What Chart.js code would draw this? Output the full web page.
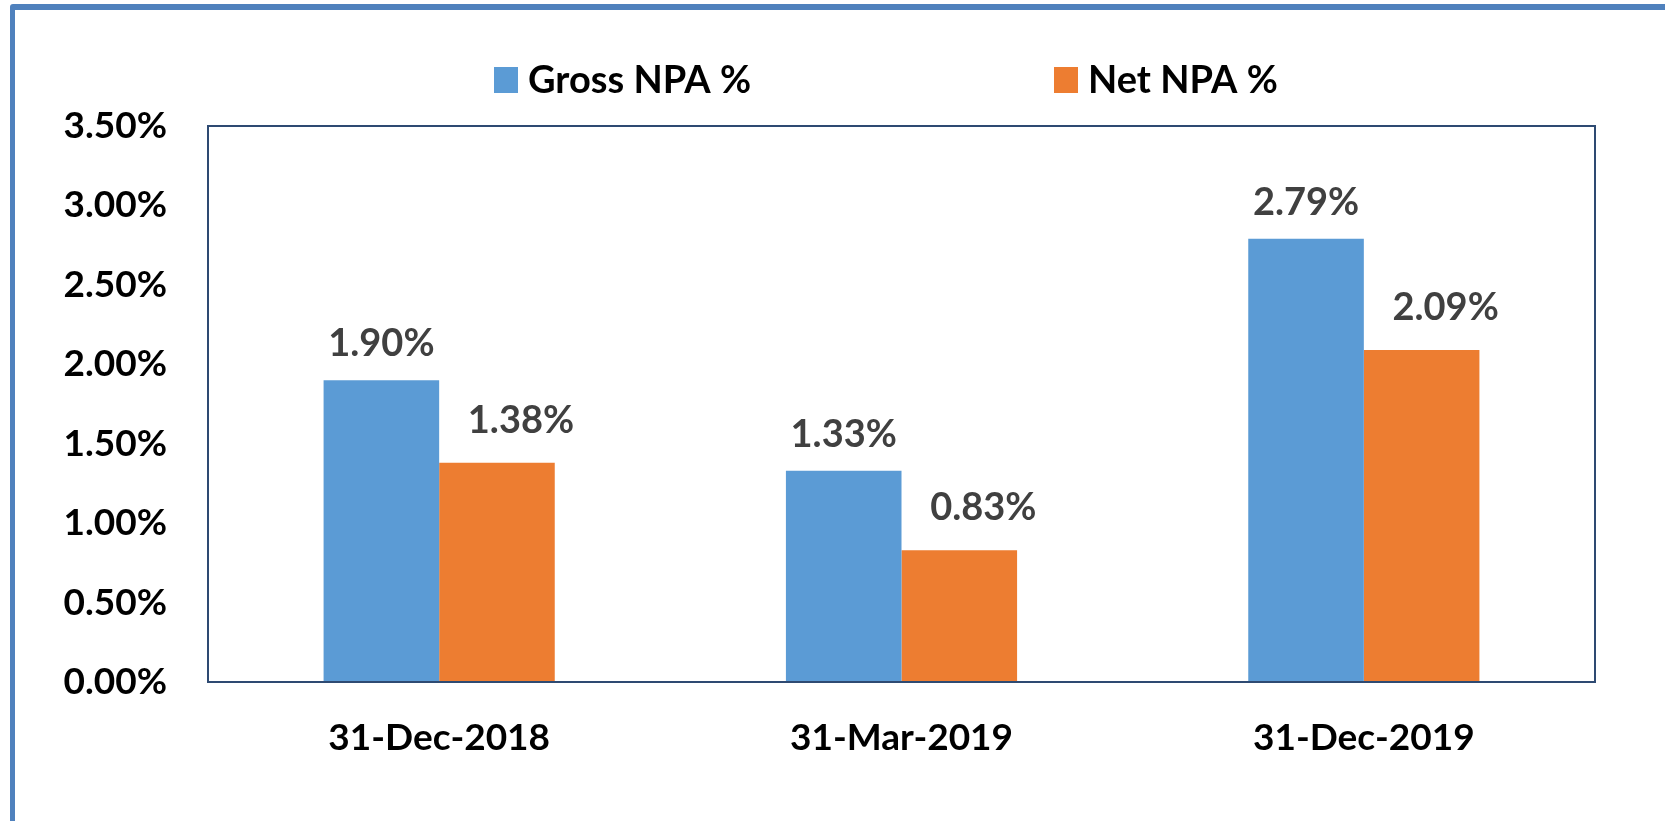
<!DOCTYPE html>
<html>
<head>
<meta charset="utf-8">
<script src="https://cdn.jsdelivr.net/npm/chart.js@4.4.0/dist/chart.umd.min.js"></script>
<style>
  html, body { margin: 0; padding: 0; background: #fff; overflow: hidden; }
  #wrap { position: relative; width: 1665px; height: 821px; }
  #frame { position: absolute; left: 10px; top: 4px; width: 2000px; height: 2000px;
           border-left: 5px solid #4F81BD; border-top: 6px solid #4F81BD; border-radius: 3px; box-sizing: border-box; }
  canvas { position: absolute; left: 0; top: 0; }
</style>
</head>
<body>
<div id="wrap">
  <div id="frame"></div>
  <canvas id="c" width="1665" height="821"></canvas>
</div>
<script>
const categories = ['31-Dec-2018', '31-Mar-2019', '31-Dec-2019'];
const grossNPA = [1.90, 1.33, 2.79];
const netNPA = [1.38, 0.83, 2.09];
const seriesNames = ['Gross NPA %', 'Net NPA %'];
const seriesColors = ['#5B9BD5', '#ED7D31'];
const yMin = 0, yMax = 3.5, yStep = 0.5;

const FONT = 'Lato, "Open Sans", sans-serif';
const fmt = v => Number(v).toFixed(2) + '%';

const plotBorder = {
  id: 'plotBorder',
  afterDatasetsDraw(chart) {
    const a = chart.chartArea, ctx = chart.ctx;
    ctx.save();
    ctx.strokeStyle = '#2E4A72';
    ctx.lineWidth = 2;
    ctx.strokeRect(a.left, a.top, a.right - a.left, a.bottom - a.top);
    ctx.restore();
  }
};

const valueLabels = {
  id: 'valueLabels',
  afterDatasetsDraw(chart) {
    const ctx = chart.ctx;
    const gaps = [24, 30];
    const shifts = [0, 24];
    ctx.save();
    ctx.font = 'bold 38px ' + FONT;
    ctx.fillStyle = '#404040';
    ctx.textAlign = 'center';
    ctx.textBaseline = 'alphabetic';
    chart.data.datasets.forEach((ds, di) => {
      const meta = chart.getDatasetMeta(di);
      meta.data.forEach((bar, i) => {
        ctx.fillText(fmt(ds.data[i]), bar.x + shifts[di], bar.y - gaps[di]);
      });
    });
    ctx.restore();
  }
};

const customLegend = {
  id: 'customLegend',
  afterDraw(chart) {
    const ctx = chart.ctx;
    const xs = [494, 1054];
    ctx.save();
    ctx.font = 'bold 38px ' + FONT;
    ctx.textBaseline = 'alphabetic';
    ctx.textAlign = 'left';
    chart.data.datasets.forEach((ds, i) => {
      ctx.fillStyle = ds.backgroundColor;
      ctx.fillRect(xs[i], 67, 24, 26);
      ctx.fillStyle = '#000';
      ctx.fillText(ds.label, xs[i] + 34, 93);
    });
    ctx.restore();
  }
};

new Chart(document.getElementById('c'), {
  type: 'bar',
  data: {
    labels: categories,
    datasets: [
      { label: seriesNames[0], data: grossNPA, backgroundColor: seriesColors[0] },
      { label: seriesNames[1], data: netNPA, backgroundColor: seriesColors[1] }
    ]
  },
  options: {
    responsive: false,
    animation: false,
    devicePixelRatio: 1,
    layout: { padding: { top: 126, right: 70, left: 0, bottom: 0 } },
    datasets: { bar: { categoryPercentage: 0.5, barPercentage: 1.0 } },
    plugins: { legend: { display: false }, tooltip: { enabled: false } },
    scales: {
      x: {
        grid: { display: false, drawTicks: false },
        border: { display: false },
        ticks: { color: '#000', font: { family: FONT, size: 37, weight: 'bold' }, padding: 34 },
        afterFit(s) { s.height = 139; }
      },
      y: {
        min: yMin, max: yMax,
        grid: { display: false, drawTicks: false },
        border: { display: false },
        ticks: { stepSize: yStep, color: '#000', font: { family: FONT, size: 37, weight: 'bold' }, padding: 41,
                 callback: v => fmt(v) },
        afterFit(s) { s.width = 208; }
      }
    }
  },
  plugins: [plotBorder, valueLabels, customLegend]
});
</script>
</body>
</html>
